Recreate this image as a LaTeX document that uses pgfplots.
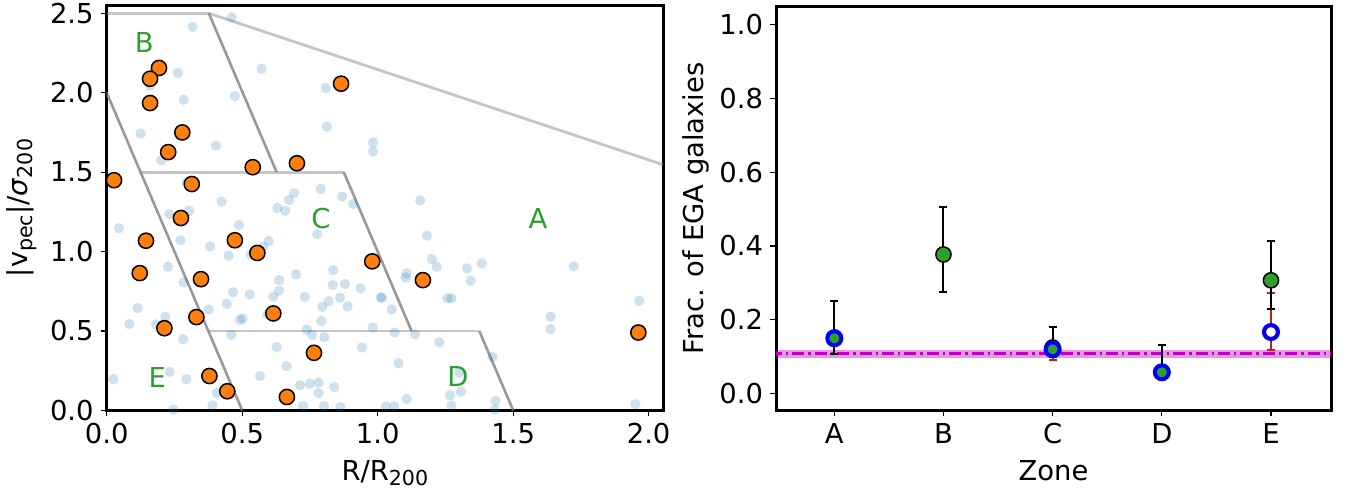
\documentclass[border=0pt]{standalone}
\usepackage{pgfplots}
\pgfplotsset{compat=1.18}
\usepackage{pgfplotstable}
\usepackage{fontspec}
\setmainfont{DejaVu Sans}
\definecolor{taborange}{HTML}{FF7F0E}
\definecolor{tabgreen}{HTML}{2CA02C}
\definecolor{tabblue}{HTML}{1F77B4}
\definecolor{mpm}{rgb}{0.75,0,0.75}
\definecolor{errred}{HTML}{B22222}
\newcommand{\lbl}{\fontsize{13.7}{16.4}\selectfont}
\newcommand{\sub}[1]{\raisebox{-2.5pt}{\fontsize{10.3}{12}\selectfont #1}}

\pgfplotstableread{
x y
0.461 2.475
0.317 2.415
0.263 2.124
0.572 2.151
0.160 2.044
0.284 1.956
0.473 1.979
0.809 2.030
0.125 1.743
0.812 1.787
0.403 1.666
0.201 1.575
0.983 1.686
0.983 1.630
0.295 1.435
0.424 1.314
0.691 1.367
0.673 1.325
0.630 1.274
0.659 1.257
0.790 1.394
0.869 1.346
0.910 1.300
0.231 1.235
0.304 1.257
1.157 1.321
0.045 1.146
0.777 1.110
0.488 1.167
0.598 1.066
0.577 1.030
0.532 0.980
0.382 1.033
0.450 0.974
0.272 1.071
0.226 0.904
0.284 0.806
0.636 0.820
0.636 0.753
0.699 0.856
0.836 0.883
0.834 0.789
0.879 0.795
0.937 0.768
0.528 0.730
0.466 0.744
0.615 0.715
0.731 0.715
0.819 0.688
0.861 0.709
0.796 0.652
0.889 0.654
1.011 0.711
1.052 0.635
0.443 0.671
0.376 0.635
0.114 0.644
0.216 0.589
0.083 0.543
0.182 0.541
0.492 0.570
0.502 0.579
0.593 0.604
0.792 0.563
0.738 0.509
0.758 0.475
0.803 0.461
0.982 0.522
1.063 0.490
0.460 0.475
0.282 0.448
0.627 0.399
0.942 0.396
0.664 0.278
1.077 0.297
0.024 0.196
0.232 0.242
0.294 0.196
0.566 0.216
0.713 0.158
0.749 0.168
0.782 0.175
0.782 0.109
0.840 0.147
0.406 0.109
0.390 0.032
0.247 0.004
0.725 0.027
0.802 0.027
0.863 0.021
1.030 0.025
1.061 0.025
1.182 1.100
1.200 0.953
1.218 0.904
1.107 0.862
1.103 0.835
1.330 0.894
1.384 0.926
1.343 0.816
1.724 0.907
1.016 0.709
1.258 0.705
1.272 0.705
1.638 0.589
1.638 0.511
1.965 0.690
1.138 0.480
1.227 0.429
1.424 0.336
1.301 0.238
1.307 0.118
1.267 0.095
1.107 0.071
1.435 0.059
1.272 0.030
1.433 0.004
1.951 0.038
}\bgpoints

\pgfplotstableread{
x y
0.193 2.156
0.160 2.088
0.160 1.935
0.279 1.750
0.227 1.626
0.539 1.531
0.702 1.556
0.865 2.057
0.027 1.449
0.314 1.425
0.274 1.211
0.145 1.068
0.473 1.071
0.556 0.991
0.122 0.864
0.348 0.826
0.980 0.938
1.167 0.820
0.213 0.517
0.331 0.587
0.615 0.610
0.765 0.362
0.379 0.216
0.445 0.120
0.665 0.084
1.962 0.490
}\egapoints

\pgfplotsset{
  myaxis/.style={
    scale only axis,
    axis line style={line width=1.5pt},
    tick align=outside,
    tick pos=left,
    major tick length=3pt,
    every tick/.style={black, line width=0.6pt},
    tick label style={font=\lbl},
    label style={font=\lbl},
    /pgf/number format/assume math mode=true,
    anchor=south west,
  }
}

\begin{document}
\begin{tikzpicture}
\path[use as bounding box] (-53.35pt,-42.35pt) rectangle (621.15pt,205.15pt);

\begin{axis}[myaxis, at={(0pt,0pt)},
  width=278.15pt, height=202.3pt,
  xmin=0, xmax=2.053, ymin=0, ymax=2.548,
  xtick={0,0.5,1,1.5,2}, ytick={0,0.5,1,1.5,2,2.5},
  xticklabel style={/pgf/number format/.cd,fixed,fixed zerofill,precision=1},
  yticklabel style={/pgf/number format/.cd,fixed,fixed zerofill,precision=1},
  xlabel={R/R\sub{200}},
  ylabel={|v\sub{pec}|/\textit{σ}\sub{200}},
  xlabel style={at={(axis description cs:0.5,-0.173)}, anchor=base},
  ylabel style={at={(axis description cs:-0.152,0.5)}, anchor=center, rotate=0},
]
\addplot[gray, draw opacity=0.45, line width=1.4pt] coordinates {(0,2.5) (0.377,2.5)};
\addplot[gray, draw opacity=0.45, line width=1.4pt] coordinates {(0.377,2.5) (2.1,1.52)};
\addplot[gray, draw opacity=0.45, line width=1.4pt] coordinates {(0.125,1.5) (0.875,1.5)};
\addplot[gray, draw opacity=0.45, line width=1.4pt] coordinates {(0.375,0.5) (1.375,0.5)};
\addplot[gray, draw opacity=0.8, line width=1.3pt] coordinates {(0,2) (0.5,0)};
\addplot[gray, draw opacity=0.8, line width=1.3pt] coordinates {(0.377,2.5) (0.627,1.5)};
\addplot[gray, draw opacity=0.8, line width=1.3pt] coordinates {(0.875,1.5) (1.125,0.5)};
\addplot[gray, draw opacity=0.8, line width=1.3pt] coordinates {(1.375,0.5) (1.5,0)};
\addplot[only marks, mark=*, mark size=2.6pt, color=tabblue, draw opacity=0, fill opacity=0.22,
  mark options={draw opacity=0, fill=tabblue, fill opacity=0.22, line width=0pt}] table[x=x,y=y] {\bgpoints};
\node[tabgreen, font=\lbl] at (axis cs:0.139,2.314) {B};
\node[tabgreen, font=\lbl] at (axis cs:0.791,1.206) {C};
\node[tabgreen, font=\lbl] at (axis cs:1.592,1.211) {A};
\node[tabgreen, font=\lbl] at (axis cs:1.296,0.212) {D};
\node[tabgreen, font=\lbl] at (axis cs:0.187,0.208) {E};
\addplot[only marks, mark=*, mark size=3.8pt, mark options={draw=black, fill=taborange, line width=0.75pt}] table[x=x,y=y] {\egapoints};
\end{axis}

\begin{axis}[myaxis, at={(334.65pt,0pt)},
  width=277.5pt, height=202pt,
  xmin=-0.534, xmax=4.55, ymin=-0.045, ymax=1.049,
  xtick={0,1,2,3,4}, xticklabels={A,B,C,D,E},
  ytick={0,0.2,0.4,0.6,0.8,1.0},
  yticklabel style={/pgf/number format/.cd,fixed,fixed zerofill,precision=1},
  xlabel={Zone},
  ylabel={Frac. of EGA galaxies},
  xlabel style={at={(axis description cs:0.5,-0.173)}, anchor=base},
  ylabel style={at={(axis description cs:-0.144,0.5)}, anchor=center},
]
\addplot[fill=mpm, fill opacity=0.4, draw=none] coordinates {(-1,0.098) (5,0.098) (5,0.118) (-1,0.118)} -- cycle;
\addplot[mpm, line width=1.5pt, dash pattern=on 6pt off 2pt on 1.2pt off 2pt] coordinates {(-1,0.108) (5,0.108)};
\addplot[errred, line width=1pt, only marks, mark=*, mark size=3pt, mark options={draw=none, fill=white},
  error bars/.cd, y dir=both, y explicit, error mark=|,
  error bar style={draw=errred, line width=1pt},
  error mark options={draw=errred, line width=1pt, mark size=2pt}]
  coordinates {
  (0,0.150) +=(0,0.100) -=(0,0.042)
  (2,0.120) +=(0,0.061) -=(0,0.028)
  (3,0.058) +=(0,0.073) -=(0,0.012)
  (4,0.167) +=(0,0.105) -=(0,0.050)
  };
\addplot[only marks, mark=*, mark size=3.8pt, mark options={fill=tabgreen, draw=black, line width=0.75pt},
  error bars/.cd, y dir=both, y explicit, error mark=|,
  error bar style={draw=black, line width=1pt},
  error mark options={draw=black, line width=1pt, mark size=2pt}]
  coordinates {
  (0,0.152) +=(0,0.098) -=(0,0.045)
  (1,0.377) +=(0,0.128) -=(0,0.102)
  (2,0.125) +=(0,0.056) -=(0,0.026)
  (3,0.058) +=(0,0.073) -=(0,0.012)
  (4,0.307) +=(0,0.106) -=(0,0.079)
  };
\addplot[only marks, mark=o, mark size=3.5pt, mark options={draw=blue, fill=none, line width=2pt}]
  coordinates {(0,0.150) (2,0.120) (3,0.058) (4,0.167)};
\end{axis}
\end{tikzpicture}
\end{document}
